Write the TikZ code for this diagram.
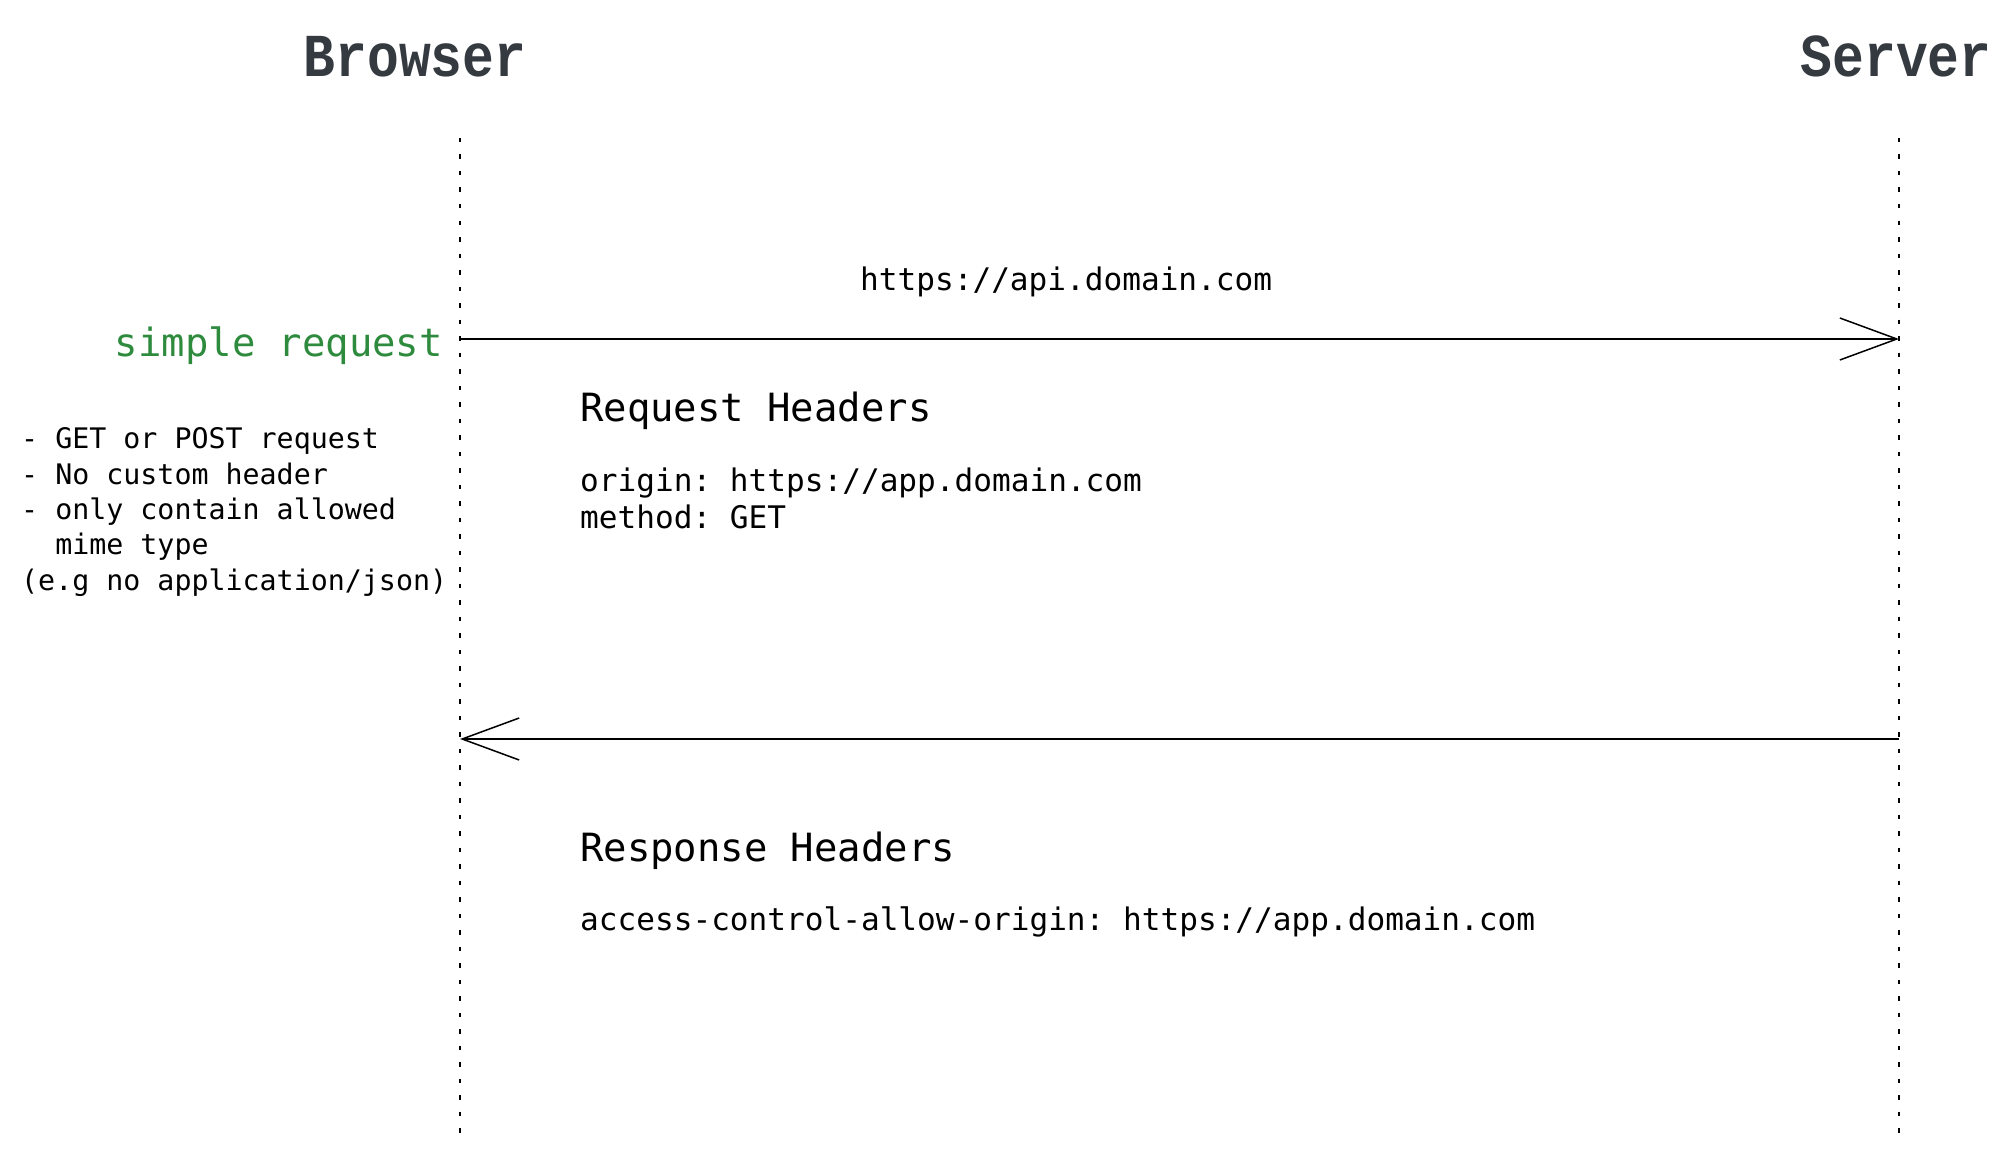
\documentclass[tikz,border=0pt]{standalone}
\usepackage{fontspec}
\setmonofont{DejaVu Sans Mono}
\newfontfamily\titlefont{Liberation Mono}
\usetikzlibrary{arrows.meta}
\definecolor{titlegray}{HTML}{343A40}
\definecolor{simplegreen}{HTML}{2E8B3E}
\tikzset{
  lifeline/.style={line width=2.6pt, dash pattern=on 4.5pt off 12pt},
  msg/.style={line width=1.5pt, -{Straight Barb[length=57pt,width=42pt,line width=1.5pt]}},
  title/.style={anchor=base, text=titlegray, inner sep=0pt, font=\titlefont\bfseries\fontsize{53}{60}\selectfont},
  body/.style={anchor=base west, inner sep=0pt, font=\ttfamily\fontsize{31.1}{37}\selectfont},
  head/.style={anchor=base west, inner sep=0pt, font=\ttfamily\fontsize{38.9}{46}\selectfont},
  note/.style={anchor=base west, inner sep=0pt, font=\ttfamily\fontsize{28.3}{35.5}\selectfont},
}
\begin{document}
\begin{tikzpicture}[x=1pt,y=-1pt]
\useasboundingbox (0,0) rectangle (2015,1161);
% titles
\node[title] (browser) at (415,77) {\scalebox{1}[1.15]{Browser}};
\node[title] (server) at (1896,77) {\scalebox{1}[1.15]{Server}};
% lifelines
\coordinate (btop) at (460,138);
\coordinate (bbot) at (460,1133);
\coordinate (stop) at (1899,138);
\coordinate (sbot) at (1899,1133);
\draw[lifeline] (btop) -- (bbot);
\draw[lifeline] (stop) -- (sbot);
% messages
\coordinate (reqL) at (460,339);
\coordinate (reqR) at (1899,339);
\coordinate (resL) at (460,739);
\coordinate (resR) at (1899,739);
\draw[msg] (reqL) -- (reqR);
\draw[msg] (resR) -- (resL);
% labels
\node[body] (url) at (860,290) {https://api.domain.com};
\node[anchor=base east, inner sep=0pt, text=simplegreen, font=\ttfamily\fontsize{38.9}{46}\selectfont] (simple) at (443,356) {simple request};
\node[note] (n1) at (21,448) {- GET or POST request};
\node[note] (n2) at (21,484) {- No custom header};
\node[note] (n3) at (21,519) {- only contain allowed};
\node[note] (n4) at (21,554) {\ \ mime type};
\node[note] (n5) at (21,590) {(e.g no application/json)};
\node[head] (reqh) at (580,421) {Request Headers};
\node[body] (orig) at (580,491) {origin: https://app.domain.com};
\node[body] (meth) at (580,528) {method: GET};
\node[head] (resh) at (580,861) {Response Headers};
\node[body] (acao) at (580,930) {access-control-allow-origin: https://app.domain.com};
\end{tikzpicture}
\end{document}
